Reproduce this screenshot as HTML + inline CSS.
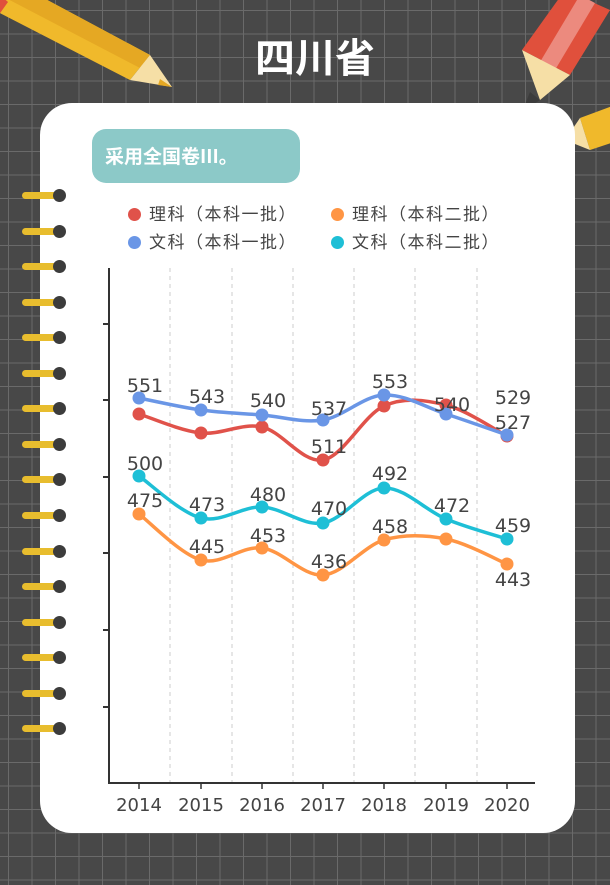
<!DOCTYPE html>
<html><head><meta charset="utf-8">
<style>
body{margin:0;width:610px;height:885px;overflow:hidden;background:#484848;font-family:"Liberation Sans","Noto Sans CJK SC",sans-serif;}
#bg{position:absolute;left:0;top:0;width:610px;height:885px;
background-image:linear-gradient(#6a6a6a 1px,transparent 1px),linear-gradient(90deg,#6a6a6a 1px,transparent 1px);
background-size:23.5px 23.5px;background-position:8px 10px;}
.card{position:absolute;left:40px;top:103px;width:535px;height:730px;background:#fff;border-radius:32px;}
.title{position:absolute;left:0;width:630px;top:26px;text-align:center;color:#fff;font-size:40px;font-weight:bold;font-family:"Noto Sans CJK SC",sans-serif;}
.tag{position:absolute;left:92px;top:129px;width:208px;height:54px;background:#8cc9c8;border-radius:14px;color:#fff;font-size:19px;font-weight:bold;line-height:54px;padding-left:13px;box-sizing:border-box;font-family:"Noto Sans CJK SC",sans-serif;}
.ring{position:absolute;left:22px;width:40px;height:7px;background:#e8bd2e;border-radius:4px;}
.ringd{position:absolute;left:53px;width:13px;height:13px;background:#3c3c3c;border-radius:50%;}
.leg{position:absolute;font-size:17px;color:#444;font-family:"Noto Sans CJK SC",sans-serif;letter-spacing:1.5px;}
.leg i{display:inline-block;width:13px;height:13px;border-radius:50%;margin-right:8px;vertical-align:-1px;}
</style></head><body>
<div id="bg"></div>
<svg width="610" height="885" style="position:absolute;left:0;top:0">
<polygon points="-10,8 10,-20 150,55 130,80" fill="#f0b92b"/>
<polygon points="0,-5 10,-20 150,55 140,68" fill="#e5a823"/>
<polygon points="130,80 150,55 172,87" fill="#f6dfa6"/>
<polygon points="160,79 172,87 158,85" fill="#e5a823"/>
<polygon points="-10,8 0,-5 8,2 -2,16" fill="#e0503c"/>
<polygon points="565,-10 610,10 570,75 522,50" fill="#e0503c"/>
<polygon points="580,-5 595,3 555,70 540,62" fill="#ec8a7e"/>
<polygon points="522,50 570,75 540,100" fill="#f6dfa6"/>
<polygon points="530,92 540,100 522,112" fill="#3c3c3c"/>
<polygon points="580,118 615,105 620,140 590,150" fill="#f0b92b"/>
<polygon points="580,118 590,150 565,140" fill="#f6dfa6"/>
<polygon points="565,140 572,133 558,150" fill="#3c3c3c"/>
</svg>
<div class="title">四川省</div>
<div class="card"></div>
<div class="tag">采用全国卷III。</div>
<div id="rings"></div>
<div class="leg" style="left:128px;top:200px"><i style="background:#e0524a"></i>理科（本科一批）</div>
<div class="leg" style="left:331px;top:200px"><i style="background:#ff9544"></i>理科（本科二批）</div>
<div class="leg" style="left:128px;top:228px"><i style="background:#6a96e6"></i>文科（本科一批）</div>
<div class="leg" style="left:331px;top:228px"><i style="background:#1ebfd6"></i>文科（本科二批）</div>
<svg id="ch" width="610" height="885" style="position:absolute;left:0;top:0"></svg>
<script>
var r='';for(var i=0;i<16;i++){var y=195+i*35.55;r+='<div class="ring" style="top:'+(y-3)+'px"></div><div class="ringd" style="top:'+(y-6)+'px"></div>';}
document.getElementById('rings').innerHTML=r;
var xs=[139,201,262,323,384,446,507];
var s='';
[170,232,293,354,415,477].forEach(function(x){s+='<line x1="'+x+'" y1="268" x2="'+x+'" y2="783" stroke="#ccc" stroke-dasharray="4,4"/>';});
s+='<line x1="109" y1="268" x2="109" y2="784" stroke="#333" stroke-width="2"/><line x1="108" y1="783" x2="535" y2="783" stroke="#333" stroke-width="2"/>';
[324,400,477,553,630,707].forEach(function(y){s+='<line x1="103" y1="'+y+'" x2="109" y2="'+y+'" stroke="#333" stroke-width="2"/>';});
for(var i=0;i<7;i++){s+='<line x1="'+xs[i]+'" y1="783" x2="'+xs[i]+'" y2="789" stroke="#333" stroke-width="1.5"/><text x="'+xs[i]+'" y="811" font-size="18" fill="#444" text-anchor="middle" font-family="DejaVu Sans">'+(2014+i)+'</text>';}
function path(ys){var d='M'+xs[0]+','+ys[0];for(var i=0;i<6;i++){var p0=i>0?i-1:0,p3=i<5?i+2:6;
var c1x=xs[i]+(xs[i+1]-xs[p0])/6,c1y=ys[i]+(ys[i+1]-ys[p0])/6,c2x=xs[i+1]-(xs[p3]-xs[i])/6,c2y=ys[i+1]-(ys[p3]-ys[i])/6;
d+=' C'+c1x+','+c1y+' '+c2x+','+c2y+' '+xs[i+1]+','+ys[i+1];}return d;}
var series=[
['#e0524a',[414,433,427,460,406,405,436]],
['#6a96e6',[398,410,415,420,395,414,435]],
['#ff9544',[514,560,548,575,540,539,564]],
['#1ebfd6',[476,518,507,523,488,519,539]]];
series.forEach(function(se){s+='<path d="'+path(se[1])+'" fill="none" stroke="'+se[0]+'" stroke-width="3.5"/>';
se[1].forEach(function(y,i){s+='<circle cx="'+xs[i]+'" cy="'+y+'" r="6.5" fill="'+se[0]+'"/>';});});
var labels=[[139,391,'551'],[201,402,'543'],[262,406,'540'],[323,414,'537'],[384,387,'553'],[446,410,'540'],[507,403,'529'],[507,428,'527'],[323,452,'511'],
[139,469,'500'],[201,510,'473'],[262,500,'480'],[323,514,'470'],[384,479,'492'],[446,511,'472'],[507,531,'459'],
[139,506,'475'],[201,552,'445'],[262,541,'453'],[323,567,'436'],[384,532,'458'],[507,585,'443']];
labels.forEach(function(l){s+='<text x="'+(l[0]+6)+'" y="'+(l[1]+1)+'" font-size="19" fill="#444" text-anchor="middle" font-family="DejaVu Sans">'+l[2]+'</text>';});
document.getElementById('ch').innerHTML=s;
</script>
</body></html>
